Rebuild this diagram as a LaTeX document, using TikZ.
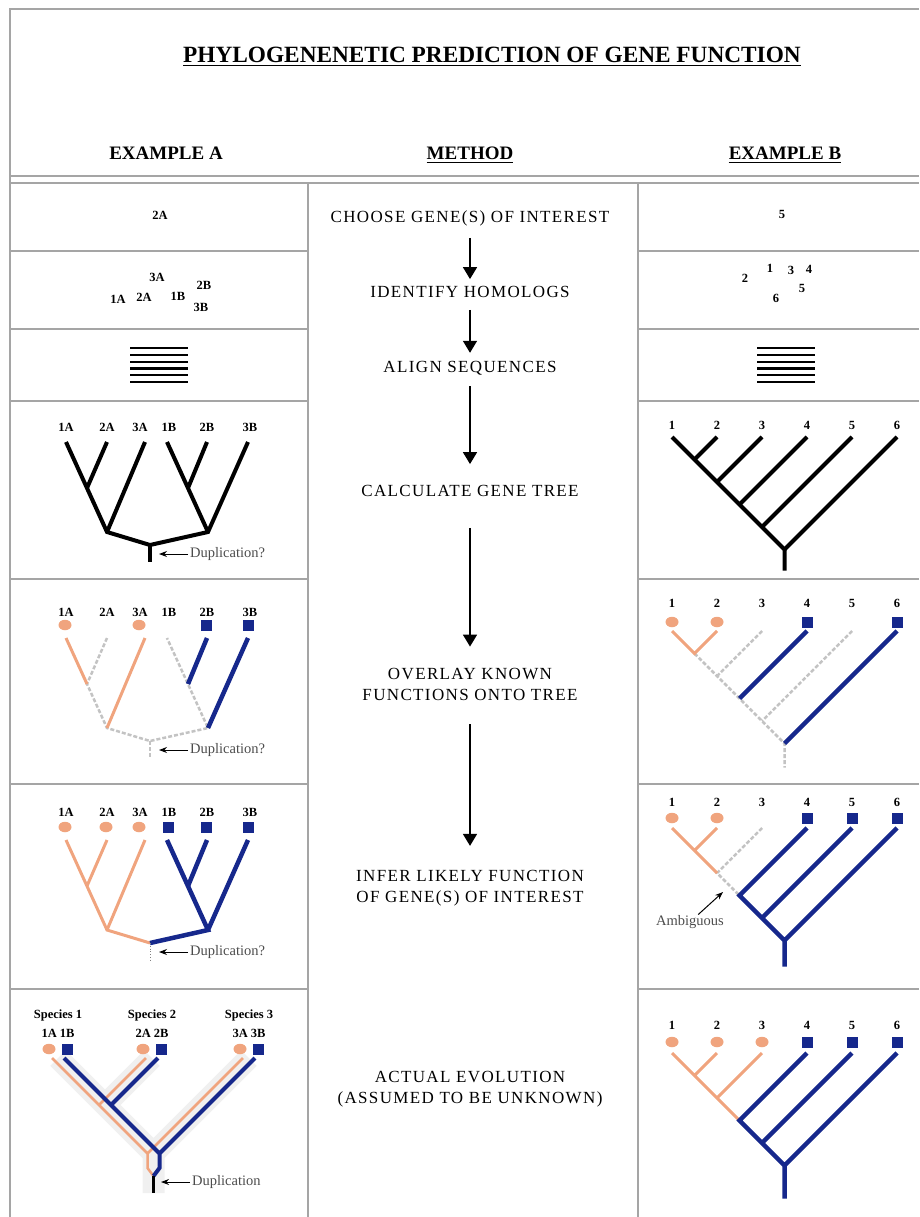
\documentclass[tikz,border=0pt]{standalone}
\usepackage{fontspec}
\setmainfont{Liberation Serif}
\usetikzlibrary{arrows.meta,shapes.geometric}
\definecolor{salmon}{RGB}{240,164,126}
\definecolor{navy}{RGB}{22,40,140}
\definecolor{rulegray}{RGB}{165,165,165}
\definecolor{unkgray}{RGB}{195,195,195}
\tikzset{
  rulel/.style={rulegray,line width=1.3pt},
  ttl/.style={font=\fontsize{23.3}{26}\selectfont\bfseries,inner sep=0pt},
  colhead/.style={font=\fontsize{19}{22}\selectfont\bfseries,inner sep=0pt},
  meth/.style={font=\fontsize{17}{21}\selectfont\addfontfeature{LetterSpace=8},align=center,inner sep=0pt},
  tag/.style={font=\fontsize{12.5}{14}\selectfont\bfseries,inner sep=0pt},
  note/.style={font=\fontsize{14.5}{16}\selectfont,text=black!70,inner sep=0pt},
  flow/.style={-{Triangle[width=14pt,length=12pt]},line width=1.6pt},
  ptr/.style={-{Stealth[length=8pt,width=6pt]},line width=1pt},
  blk/.style={line width=4pt},
  sal/.style={salmon,line width=3pt},
  blu/.style={navy,line width=4.5pt},
  unk/.style={unkgray,line width=2.5pt,dash pattern=on 4pt off 2pt},
  fa/.style={ellipse,fill=salmon,minimum width=13pt,minimum height=10.5pt,inner sep=0pt},
  fb/.style={rectangle,fill=navy,minimum size=11pt,inner sep=0pt},
}
\begin{document}
\begin{tikzpicture}[x=1pt,y=-1pt]
  \useasboundingbox (0,0) rectangle (919,1217);
  % frame and rows
  \draw[rulel] (10,1217) -- (10,9) -- (919,9);
  \draw[rulel] (10,176) -- (919,176) (10,183) -- (919,183);
  \draw[rulel] (308,183) -- (308,1217) (638,183) -- (638,1217);
  \foreach \y in {251,329,401,579,784,989}
    \draw[rulel] (10,\y) -- (308,\y) (638,\y) -- (919,\y);

  % headings
  \node[ttl] (title) at (492,55) {PHYLOGENENETIC PREDICTION OF GENE FUNCTION};
  \draw[line width=1.2pt] ([yshift=-3pt]title.base west) -- ([yshift=-3pt]title.base east);
  \node[colhead] (hA) at (166,153) {EXAMPLE A};
  \node[colhead] (hM) at (470,153) {METHOD};
  \node[colhead] (hB) at (785,153) {EXAMPLE B};
  \draw[line width=1pt] ([yshift=-3pt]hM.base west) -- ([yshift=-3pt]hM.base east);
  \draw[line width=1pt] ([yshift=-3pt]hB.base west) -- ([yshift=-3pt]hB.base east);

  % method column
  \node[meth] (m1) at (470,218) {CHOOSE GENE(S) OF INTEREST};
  \node[meth] (m2) at (470,292) {IDENTIFY HOMOLOGS};
  \node[meth] (m3) at (470,368) {ALIGN SEQUENCES};
  \node[meth] (m4) at (470,491) {CALCULATE GENE TREE};
  \node[meth] (m5) at (470,684) {OVERLAY KNOWN\\FUNCTIONS ONTO TREE};
  \node[meth] (m6) at (470,888) {INFER LIKELY FUNCTION\\OF GENE(S) OF INTEREST};
  \node[meth] (m7) at (470,1089) {ACTUAL EVOLUTION\\(ASSUMED TO BE UNKNOWN)};
  \draw[flow,shorten <=12pt,shorten >=7pt] (m1) -- (m2);
  \draw[flow,shorten <=12pt,shorten >=8pt] (m2) -- (m3);
  \draw[flow,shorten <=11pt,shorten >=21pt] (m3) -- (m4);
  \draw[flow,shorten <=31pt,shorten >=21pt] (m4) -- (m5);
  \draw[flow,shorten <=24pt,shorten >=24pt] (m5) -- (m6);

  % rows 1-3, example A
  \node[tag] (a1g) at (160,215) {2A};
  \node[tag] (a2g3A) at (157,277) {3A};
  \node[tag] (a2g2B) at (204,285) {2B};
  \node[tag] (a2g1A) at (118,299) {1A};
  \node[tag] (a2g2A) at (144,297) {2A};
  \node[tag] (a2g1B) at (178,296) {1B};
  \node[tag] (a2g3B) at (201,307) {3B};
  \foreach \i in {0,...,5}
    \draw[line width=2.2pt] (130,{348+6.8*\i}) -- (188,{348+6.8*\i});

  % rows 1-3, example B
  \node[tag] (b1g) at (782,214) {5};
  \node[tag] (b2g2) at (745,278) {2};
  \node[tag] (b2g1) at (770,268) {1};
  \node[tag] (b2g3) at (791,270) {3};
  \node[tag] (b2g4) at (809,269) {4};
  \node[tag] (b2g5) at (802,288) {5};
  \node[tag] (b2g6) at (776,298) {6};
  \foreach \i in {0,...,5}
    \draw[line width=2.2pt] (757,{348+6.8*\i}) -- (815,{348+6.8*\i});

  % gene trees, example A
  \foreach \r/\dy in {4/0,5/196,6/398}{
    \begin{scope}[shift={(0,\dy)}]
      \coordinate (a\r t1) at (66,442);
      \coordinate (a\r t2) at (107,442);
      \coordinate (a\r t3) at (145,442);
      \coordinate (a\r t4) at (167,442);
      \coordinate (a\r t5) at (207,442);
      \coordinate (a\r t6) at (248,442);
      \coordinate (a\r p) at (87,488);
      \coordinate (a\r q) at (107,532);
      \coordinate (a\r u) at (188,488);
      \coordinate (a\r v) at (208,532);
      \coordinate (a\r r) at (150,545);
      \coordinate (a\r s) at (150,562);
      \coordinate (a\r k) at (159,554);
      \node[note,anchor=west] (a\r d) at (190,554) {Duplication?};
      \draw[ptr,shorten <=2pt] (a\r d.west) -- (a\r k);
    \end{scope}
  }
  \foreach \r/\ly in {4/427,5/612,6/812}
    \foreach \g/\x in {1A/66,2A/107,3A/140,1B/169,2B/207,3B/250}
      \node[tag] (a\r l\g) at (\x,\ly) {\g};

  \draw[blk] (a4t1) -- (a4q) -- (a4r) -- (a4v) -- (a4t6);
  \draw[blk] (a4t2) -- (a4p) (a4t3) -- (a4q) (a4t4) -- (a4v) (a4t5) -- (a4u);
  \draw[blk] (a4r) -- (a4s);

  \draw[unk] (a5t2) -- (a5p) -- (a5q) -- (a5r) -- (a5v) -- (a5t4);
  \draw[unk] (a5r) -- (a5s);
  \draw[sal] (a5t1) -- (a5p) (a5t3) -- (a5q);
  \draw[blu] (a5t5) -- (a5u) (a5t6) -- (a5v);
  \node[fa] (a5m1) at (65,625) {};
  \node[fa] (a5m3) at (139,625) {};
  \node[fb] (a5m5) at (206,625) {};
  \node[fb] (a5m6) at (248,625) {};

  \draw[sal] (a6t1) -- (a6q) -- (a6r) (a6t2) -- (a6p) (a6t3) -- (a6q);
  \draw[blu] (a6t4) -- (a6v) -- (a6r) (a6t5) -- (a6u) (a6t6) -- (a6v);
  \draw[gray,line width=0.8pt,dotted] (a6r) -- (a6s);
  \foreach \x [count=\i] in {65,106,139}
    \node[fa] (a6m\i) at (\x,827) {};
  \foreach \x [count=\i from 4] in {168,206,248}
    \node[fb] (a6m\i) at (\x,827) {};

  % species tree, example A
  \coordinate (sp1) at (58,1058);
  \coordinate (sp2) at (152,1058);
  \coordinate (sp3) at (249,1058);
  \coordinate (spj) at (105,1105);
  \coordinate (spr) at (153.5,1153.5);
  \coordinate (spb) at (153.5,1193);
  \draw[gray!12,line width=22pt,line join=round] (sp1) -- (spr) -- (spb) (sp2) -- (spj) (sp3) -- (spr);
  \coordinate (ga1) at (52,1058);
  \coordinate (ga2) at (146,1058);
  \coordinate (ga3) at (243,1058);
  \coordinate (gaj) at (99,1105);
  \coordinate (gar) at (147.5,1153.5);
  \coordinate (gak) at (147.5,1168);
  \coordinate (gb1) at (64,1058);
  \coordinate (gb2) at (158,1058);
  \coordinate (gb3) at (255,1058);
  \coordinate (gbj) at (111,1105);
  \coordinate (gbr) at (159.5,1153.5);
  \coordinate (gbk) at (159.5,1168);
  \coordinate (dupk) at (153.5,1176);
  \draw[sal,line width=2.5pt] (ga1) -- (gar) -- (gak) -- (dupk) (ga2) -- (gaj) (ga3) -- (gar);
  \draw[blu,line width=4pt] (gb1) -- (gbr) -- (gbk) -- (dupk) (gb2) -- (gbj) (gb3) -- (gbr);
  \draw[blk,line width=3.5pt] (dupk) -- (spb);
  \foreach \s/\x in {1/58,2/152,3/249}{
    \node[tag] (sp\s n) at (\x,1015) {Species \s};
    \node[tag] (sp\s g) at (\x,1033) {\s A \s B};
    \node[fa] (sp\s a) at ({\x-9},1049) {};
    \node[fb] (sp\s b) at ({\x+9},1049) {};
  }
  \coordinate (a7k) at (161,1182);
  \node[note,anchor=west] (a7d) at (192,1182) {Duplication};
  \draw[ptr,shorten <=2pt] (a7d.west) -- (a7k);

  % gene trees, example B
  \foreach \r/\dy/\sl in {4/0/21,5/194/24,6/391/26,7/616/33}{
    \begin{scope}[shift={(0,\dy)}]
      \foreach \k in {1,...,6}{
        \coordinate (b\r t\k) at ({672+45*(\k-1)},437);
        \coordinate (b\r n\k) at ({672+22.5*(\k-1)},{437+22.5*(\k-1)});
      }
      \coordinate (b\r s) at (784.5,{549.5+\sl});
    \end{scope}
  }
  \foreach \r/\ly in {4/425,5/603,6/802,7/1025}
    \foreach \k in {1,...,6}
      \node[tag] (b\r l\k) at ({672+45*(\k-1)},\ly) {\k};

  \draw[blk] (b4n1) -- (b4n6) -- (b4s);
  \foreach \k in {2,...,6}
    \draw[blk] (b4t\k) -- (b4n\k);

  \draw[unk] (b5n2) -- (b5n6) -- (b5s) (b5t3) -- (b5n3) (b5t5) -- (b5n5);
  \draw[sal] (b5t1) -- (b5n2) -- (b5t2);
  \draw[blu] (b5t4) -- (b5n4) (b5t6) -- (b5n6);
  \foreach \k in {1,2}
    \node[fa] (b5m\k) at ({672+45*(\k-1)},622) {};
  \foreach \k in {4,6}
    \node[fb] (b5m\k) at ({672+45*(\k-1)},622) {};

  \draw[unk] (b6t3) -- (b6n3) -- (b6n4);
  \draw[sal] (b6t1) -- (b6n3) (b6t2) -- (b6n2);
  \draw[blu] (b6t4) -- (b6n4) -- (b6n6) -- (b6s) (b6t5) -- (b6n5) (b6t6) -- (b6n6);
  \foreach \k in {1,2}
    \node[fa] (b6m\k) at ({672+45*(\k-1)},818) {};
  \foreach \k in {4,5,6}
    \node[fb] (b6m\k) at ({672+45*(\k-1)},818) {};
  \coordinate (ambt) at (723,892);
  \node[note] (amb) at (690,922) {Ambiguous};
  \draw[ptr,shorten <=1pt] (amb) -- (ambt);

  \draw[sal] (b7t1) -- (b7n4) (b7t2) -- (b7n2) (b7t3) -- (b7n3);
  \draw[blu] (b7t4) -- (b7n4) -- (b7n6) -- (b7s) (b7t5) -- (b7n5) (b7t6) -- (b7n6);
  \foreach \k in {1,2,3}
    \node[fa] (b7m\k) at ({672+45*(\k-1)},1042) {};
  \foreach \k in {4,5,6}
    \node[fb] (b7m\k) at ({672+45*(\k-1)},1042) {};
\end{tikzpicture}
\end{document}
